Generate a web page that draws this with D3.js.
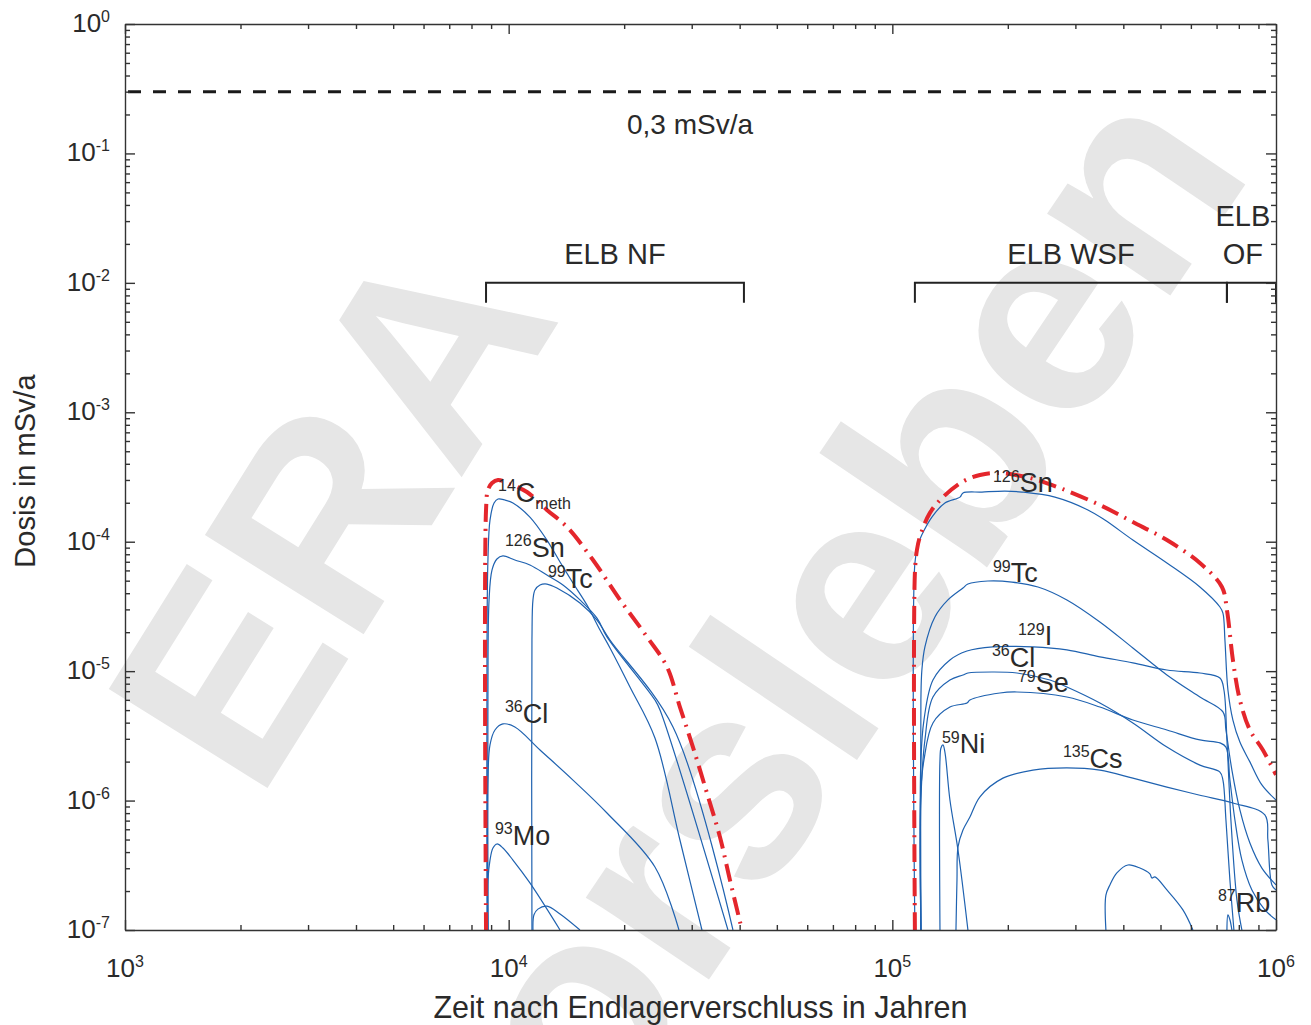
<!DOCTYPE html>
<html>
<head>
<meta charset="utf-8">
<script src="https://cdn.jsdelivr.net/npm/d3@7"></script>
<style>
  body { margin: 0; background: #fff; }
  svg { display: block; font-family: "Liberation Sans", Arial, sans-serif; }
  .axis path, .axis line { stroke: #333; stroke-width: 1.4; }
  .nuclide { fill: none; stroke: #1f62b0; stroke-width: 1.2; }
  .total { fill: none; stroke: #e4262c; stroke-width: 4; stroke-dasharray: 18 7 2 7; }
</style>
</head>
<body>
<svg width="1311" height="1025"></svg>
<script>
(function (d3) {

  // ---- data: [Jahre, Dosis in mSv/a] ----
  // near field (ELB NF)
  const c14methNF = [[8780,1e-7],[8780,1.46e-5],[8830,7.22e-5],[8940,1.47e-4],[9160,1.99e-4],[9380,2.14e-4],[9780,2.10e-4],[10260,1.99e-4],[11360,1.55e-4],[12580,1.03e-4],[13610,6.97e-5],[14710,4.80e-5],[16000,3.24e-5],[17300,2.08e-5],[18370,1.51e-5],[20710,7.54e-6],[24060,3.04e-6],[27950,4.96e-7],[31900,1e-7]];
  const sn126NF = [[8830,1e-7],[8830,5.98e-6],[8890,3.55e-5],[9050,6.05e-5],[9320,7.35e-5],[9660,7.76e-5],[10380,7.22e-5],[11360,6.61e-5],[12580,5.53e-5],[13850,4.63e-5],[15340,3.55e-5],[16990,2.57e-5],[18040,1.84e-5],[24060,5.98e-6],[24800,5.01e-6],[37290,1e-7]];
  const tc99NF = [[11500,1e-7],[11500,1.74e-5],[11570,3.55e-5],[11710,4.24e-5],[12070,4.63e-5],[12580,4.71e-5],[13360,4.39e-5],[15340,3.36e-5],[16990,2.48e-5],[18370,1.74e-5],[26810,3.70e-6],[38420,1e-7]];
  const cl36NF = [[8830,1e-7],[8830,1.44e-6],[8940,2.69e-6],[9210,3.51e-6],[9660,3.91e-6],[10380,3.70e-6],[12070,2.46e-6],[14710,1.44e-6],[18040,8.02e-7],[24060,3.07e-7],[27790,1e-7]];
  const mo93NF = [[8830,1e-7],[8830,2.43e-7],[8940,3.47e-7],[9100,4.30e-7],[9320,4.62e-7],[9660,4.30e-7],[10260,3.47e-7],[11360,2.31e-7],[13610,1e-7]];
  const otherNF = [[11570,1e-7],[11640,1.31e-7],[11920,1.45e-7],[12580,1.53e-7],[13610,1.33e-7],[15340,1e-7]];
  const totalNF = [[8730,1e-7],[8730,1.76e-4],[8830,2.51e-4],[9050,2.84e-4],[9380,3.00e-4],[10080,2.79e-4],[11160,2.42e-4],[12580,1.76e-4],[14190,1.30e-4],[16590,7.22e-5],[19510,3.55e-5],[22940,1.84e-5],[25860,1.08e-5],[27950,5.28e-6],[30220,2.59e-6],[32880,1.14e-6],[35540,5.23e-7],[37740,2.43e-7],[40560,1e-7]];

  // Westfeld (ELB WSF) and Ostfeld (ELB OF)
  const sn126WSF = [[114500,1e-7],[114500,6.85e-5],[116600,9.43e-5],[119400,1.13e-4],[126800,1.55e-4],[137100,1.99e-4],[150100,2.21e-4],[152800,2.38e-4],[171200,2.42e-4],[196600,2.46e-4],[217700,2.42e-4],[265300,2.21e-4],[323400,1.76e-4],[358100,1.47e-4],[423600,1.03e-4],[519600,6.85e-5],[633400,4.47e-5],[714300,3.13e-5],[727300,2.81e-5],[736000,1.74e-5],[749400,7.15e-6],[772100,4.19e-6],[805200,2.83e-6],[855000,1.99e-6],[918800,1.32e-6],[1e6,1.01e-6]];
  const tc99WSF = [[118700,1e-7],[118700,5.98e-6],[119400,1.02e-5],[121600,1.54e-5],[129100,2.62e-5],[139600,3.55e-5],[152800,4.39e-5],[157400,4.71e-5],[177500,4.97e-5],[205000,4.88e-5],[239700,4.47e-5],[285100,3.55e-5],[347500,2.40e-5],[423600,1.51e-5],[519600,9.34e-6],[633400,6.31e-6],[727300,4.84e-6],[740500,3.51e-6],[767500,1.72e-6],[805200,8.46e-7],[855000,4.70e-7],[918800,3.01e-7],[1e6,2.23e-7]];
  const i129WSF = [[118700,1e-7],[118700,2.06e-6],[120900,4.19e-6],[127600,8.54e-6],[141300,1.22e-5],[156500,1.43e-5],[182900,1.54e-5],[232500,1.54e-5],[285100,1.46e-5],[347500,1.29e-5],[423600,1.16e-5],[519600,1.02e-5],[633400,9.67e-6],[714300,8.85e-6],[731600,7.15e-6],[744900,2.94e-6],[762900,7.08e-7],[790900,1.71e-7],[814900,1e-7]];
  const cl36WSF = [[118700,1e-7],[118700,1.01e-6],[121600,2.94e-6],[127600,6.31e-6],[141300,8.54e-6],[152800,9.34e-6],[157400,9.67e-6],[182900,9.85e-6],[211200,9.67e-6],[257500,8.54e-6],[285100,7.54e-6],[347500,5.67e-6],[423600,3.98e-6],[519600,2.59e-6],[633400,1.88e-6],[714300,1.66e-6],[727300,1.44e-6],[740500,7.08e-7],[758400,2.43e-7],[776800,1e-7]];
  const se79WSF = [[118700,1e-7],[118700,1.21e-6],[120900,2.06e-6],[127600,3.98e-6],[141300,5.28e-6],[156500,5.67e-6],[159300,5.98e-6],[190700,6.78e-6],[211200,6.90e-6],[285100,6.31e-6],[347500,5.28e-6],[423600,4.19e-6],[519600,3.51e-6],[633400,2.94e-6],[714300,2.79e-6],[740500,2.59e-6],[758400,1.44e-6],[781500,7.08e-7],[814900,3.47e-7],[865400,2.04e-7],[935400,1.43e-7],[1e6,1.20e-7]];
  const ni59WSF = [[133100,1e-7],[133100,2.06e-6],[133900,2.55e-6],[135500,2.69e-6],[137100,2.37e-6],[141300,1.01e-6],[148300,4.15e-7],[157400,1e-7]];
  const cs135WSF = [[146500,1e-7],[147400,2.43e-7],[148300,4.38e-7],[152800,5.93e-7],[159300,7.46e-7],[169200,1.07e-6],[194200,1.49e-6],[232500,1.72e-6],[285100,1.79e-6],[347500,1.72e-6],[423600,1.49e-6],[519600,1.27e-6],[633400,1.10e-6],[772100,9.58e-7],[935400,7.74e-7],[952500,4.96e-7],[975700,2.23e-7],[1e6,2.04e-7]];
  const otherWSF = [[360300,1e-7],[360300,1.86e-7],[369100,2.23e-7],[384800,2.76e-7],[411200,3.18e-7],[441900,3.01e-7],[469200,2.71e-7],[474900,2.52e-7],[483600,2.57e-7],[519600,2.04e-7],[572000,1.43e-7],[607300,1e-7]];
  const rb87WSF = [[744900,1e-7],[749400,1.31e-7],[758400,1.20e-7],[767500,1e-7]];
  const totalWSF = [[114500,1e-7],[114500,5.73e-5],[115900,8.63e-5],[118000,1.09e-4],[125300,1.67e-4],[135500,2.21e-4],[151900,2.89e-4],[169200,3.28e-4],[187300,3.40e-4],[228400,3.11e-4],[273400,2.60e-4],[347500,1.92e-4],[423600,1.42e-4],[519600,1.03e-4],[633400,6.85e-5],[722900,4.47e-5],[744900,2.97e-5],[772100,1.22e-5],[805200,5.98e-6],[855000,3.51e-6],[924300,2.46e-6],[1e6,1.58e-6]];

  const nuclideCurves = [c14methNF, sn126NF, tc99NF, cl36NF, mo93NF, otherNF,
    sn126WSF, tc99WSF, i129WSF, cl36WSF, se79WSF, ni59WSF, cs135WSF, otherWSF, rb87WSF];
  const totalCurves = [totalNF, totalWSF];

  // isotope labels (anchored in data coordinates)
  const labels = [
    {mass: '14', sym: 'C', sub: 'meth', t: 9380, dose: 2.03e-4},
    {mass: '126', sym: 'Sn', t: 9780, dose: 7.62e-5},
    {mass: '99', sym: 'Tc', t: 12660, dose: 4.39e-5},
    {mass: '36', sym: 'Cl', t: 9780, dose: 3.98e-6},
    {mass: '93', sym: 'Mo', t: 9210, dose: 4.54e-7},
    {mass: '126', sym: 'Sn', t: 182900, dose: 2.42e-4},
    {mass: '99', sym: 'Tc', t: 182900, dose: 4.88e-5},
    {mass: '129', sym: 'I', t: 212500, dose: 1.59e-5},
    {mass: '36', sym: 'Cl', t: 181800, dose: 1.08e-5},
    {mass: '79', sym: 'Se', t: 212500, dose: 6.90e-6},
    {mass: '59', sym: 'Ni', t: 134700, dose: 2.33e-6},
    {mass: '135', sym: 'Cs', t: 278300, dose: 1.79e-6},
    {mass: '87', sym: 'Rb', t: 705800, dose: 1.38e-7}
  ];

  const doseLimit = 0.3;
  const doseLimitLabel = '0,3 mSv/a';
  const phaseLevel = 1e-2;
  const phases = [
    {lines: ['ELB NF'], from: 8730, to: 41040, textAt: 18920},
    {lines: ['ELB WSF'], from: 114500, to: 744900, textAt: 292200},
    {lines: ['ELB', 'OF'], from: 744900, to: 1e6, textAt: 819800}
  ];

  const xTicks = [1e3, 1e4, 1e5, 1e6];
  const yTicks = [1e0, 1e-1, 1e-2, 1e-3, 1e-4, 1e-5, 1e-6, 1e-7];
  const xTitle = 'Zeit nach Endlagerverschluss in Jahren';
  const yTitle = 'Dosis in mSv/a';
  const watermark = ['ERA', 'Morsleben'];

  // ---- layout ----
  const svg = d3.select('svg');
  const left = 125, right = 1276, top = 24, bottom = 930;
  const ink = '#2a2a2a';

  const x = d3.scaleLog().domain([1e3, 1e6]).range([left, right]);
  const y = d3.scaleLog().domain([1e-7, 1e0]).range([bottom, top]);

  // watermark
  const wm = svg.append('g')
    .attr('fill', '#e6e6e6')
    .attr('font-weight', 'bold');
  wm.append('text')
    .attr('transform', 'translate(410,560) rotate(-58)')
    .attr('text-anchor', 'middle')
    .attr('font-size', 272)
    .text(watermark[0]);
  wm.append('text')
    .attr('transform', 'translate(1255,170) rotate(-56)')
    .attr('text-anchor', 'end')
    .attr('font-size', 280)
    .text(watermark[1]);

  svg.append('clipPath').attr('id', 'plot')
    .append('rect')
    .attr('x', left).attr('y', top)
    .attr('width', right - left).attr('height', bottom - top);

  const plot = svg.append('g').attr('clip-path', 'url(#plot)');

  // 0,3 mSv/a
  plot.append('line')
    .attr('x1', left).attr('x2', right)
    .attr('y1', y(doseLimit)).attr('y2', y(doseLimit))
    .attr('stroke', '#1a1a1a')
    .attr('stroke-width', 3)
    .attr('stroke-dasharray', '13 12')
    .attr('stroke-dashoffset', -3);
  svg.append('text')
    .attr('x', x(29690)).attr('y', y(doseLimit) + 42)
    .attr('text-anchor', 'middle')
    .attr('font-size', 28)
    .attr('fill', ink)
    .text(doseLimitLabel);

  // phase brackets
  const py = y(phaseLevel);
  const phaseG = svg.append('g');
  phaseG.selectAll('path').data(phases).join('path')
    .attr('d', d => `M${x(d.from)},${py + 20}V${py}H${x(d.to)}V${py + 20}`)
    .attr('fill', 'none')
    .attr('stroke', '#222')
    .attr('stroke-width', 2);
  phases.forEach(p => {
    p.lines.forEach((line, i) => {
      phaseG.append('text')
        .attr('x', x(p.textAt))
        .attr('y', py - 19 - (p.lines.length - 1 - i) * 38)
        .attr('text-anchor', 'middle')
        .attr('font-size', 29)
        .attr('fill', ink)
        .text(line);
    });
  });

  // curves
  const lineGen = d3.line()
    .x(d => x(d[0]))
    .y(d => y(d[1]))
    .curve(d3.curveCatmullRom.alpha(0.5));

  plot.selectAll('path.nuclide').data(nuclideCurves).join('path')
    .attr('class', 'nuclide')
    .attr('d', lineGen);

  plot.selectAll('path.total').data(totalCurves).join('path')
    .attr('class', 'total')
    .attr('d', lineGen);

  // isotope labels
  const lab = svg.append('g').selectAll('text').data(labels).join('text')
    .attr('x', d => x(d.t))
    .attr('y', d => y(d.dose))
    .attr('fill', ink)
    .attr('font-size', 27);
  lab.append('tspan')
    .attr('font-size', 16)
    .attr('dy', -10.5)
    .text(d => d.mass);
  lab.append('tspan')
    .attr('dy', 10.5)
    .text(d => d.sym);
  lab.filter(d => d.sub).append('tspan')
    .attr('font-size', 16)
    .attr('dy', 7)
    .text(d => d.sub);

  // axes (ticks inside on all four sides)
  const decades = (a, b) => d3.range(a, b).flatMap(e => d3.range(1, 10).map(m => m * Math.pow(10, e)));
  const xAll = decades(3, 6).concat([1e6]);
  const yAll = decades(-7, 0).concat([1e0]);
  const isMajor = d => Math.abs(Math.log10(d) - Math.round(Math.log10(d))) < 1e-9;

  const drawAxis = (axis, transform) => {
    const g = svg.append('g')
      .attr('class', 'axis')
      .attr('transform', transform)
      .call(axis.tickSizeInner(-10).tickSizeOuter(0).tickFormat(''));
    g.selectAll('.tick line').each(function (d) {
      if (!isMajor(d)) {
        const l = d3.select(this);
        ['x2', 'y2'].forEach(a => l.attr(a, (+l.attr(a)) / 2));
      }
    });
  };
  drawAxis(d3.axisBottom(x).tickValues(xAll), `translate(0,${bottom})`);
  drawAxis(d3.axisTop(x).tickValues(xAll), `translate(0,${top})`);
  drawAxis(d3.axisLeft(y).tickValues(yAll), `translate(${left},0)`);
  drawAxis(d3.axisRight(y).tickValues(yAll), `translate(${right},0)`);

  // tick labels 10^n
  const xl = svg.append('g').selectAll('text').data(xTicks).join('text')
    .attr('x', d => x(d))
    .attr('y', 977)
    .attr('text-anchor', 'middle')
    .attr('font-size', 26)
    .attr('fill', ink);
  xl.append('tspan').text('10');
  xl.append('tspan').attr('font-size', 16).attr('dy', -10)
    .text(d => Math.round(Math.log10(d)));

  const yl = svg.append('g').selectAll('text').data(yTicks).join('text')
    .attr('x', 110)
    .attr('y', d => y(d) + 8)
    .attr('text-anchor', 'end')
    .attr('font-size', 26)
    .attr('fill', ink);
  yl.append('tspan').text('10');
  yl.append('tspan').attr('font-size', 16).attr('dy', -10)
    .text(d => Math.round(Math.log10(d)));

  // axis titles
  svg.append('text')
    .attr('x', (left + right) / 2)
    .attr('y', 1018)
    .attr('text-anchor', 'middle')
    .attr('font-size', 30.5)
    .attr('fill', ink)
    .text(xTitle);
  svg.append('text')
    .attr('transform', 'translate(35,471) rotate(-90)')
    .attr('text-anchor', 'middle')
    .attr('font-size', 29)
    .attr('fill', ink)
    .text(yTitle);

}(d3));
</script>
</body>
</html>
